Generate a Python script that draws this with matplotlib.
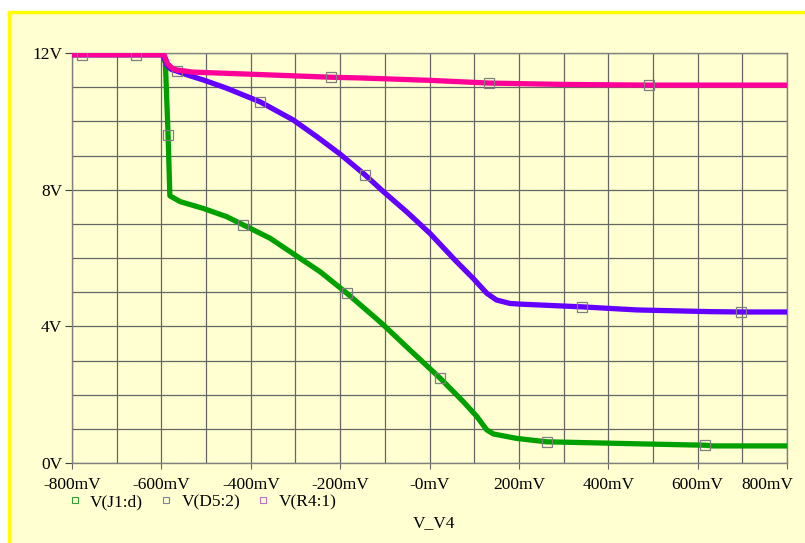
import numpy as np
import matplotlib
matplotlib.use("Agg")
import matplotlib.pyplot as plt
from matplotlib.lines import Line2D
from matplotlib.patches import Rectangle
from matplotlib.ticker import MultipleLocator
import matplotlib.transforms as mtransforms

plt.rcParams['font.family'] = ['Liberation Serif', 'DejaVu Serif']

# V(J1:d) - green
jX = np.array([-800, -596, -591, -585, -581, -558, -506, -454, -417, -357, -301, -245, -185, -115, -103,
               -44, 24, 76, 106, 128, 143, 195, 262, 299, 471, 617, 634, 800])
jY = np.array([11.95, 11.95, 11.7, 9.6, 7.82, 7.65, 7.45, 7.21, 6.97, 6.58, 6.09, 5.60, 4.97, 4.18, 4.04,
               3.31, 2.48, 1.79, 1.36, 0.97, 0.85, 0.72, 0.62, 0.61, 0.56, 0.52, 0.50, 0.50])
jMarks = [-585, -417, -185, 24, 262, 617]

# V(D5:2) - blue
dX = np.array([-800, -596, -588, -578, -565, -540, -506, -454, -379, -305, -252, -200, -144, -103, -51,
               1, 57, 98, 128, 150, 180, 203, 341, 464, 628, 697, 800])
dY = np.array([11.95, 11.95, 11.65, 11.52, 11.47, 11.35, 11.21, 10.97, 10.57, 10.04, 9.55, 9.04, 8.43, 7.94, 7.35,
               6.72, 5.94, 5.40, 4.97, 4.77, 4.67, 4.65, 4.57, 4.48, 4.43, 4.42, 4.42])
dMarks = [-565, -379, -144, 341, 697]

# V(R4:1) - pink
rX = np.array([-800, -778, -657, -594, -586, -575, -565, -529, -402, -220, -156, 0, 133, 300, 491, 800])
rY = np.array([11.95, 11.95, 11.95, 11.95, 11.68, 11.55, 11.5, 11.44, 11.38, 11.29, 11.27, 11.2, 11.12, 11.08, 11.06, 11.06])
rMarks = [-778, -657, -220, 133, 491]

xTicks = [-800, -600, -400, -200, 0, 200, 400, 600, 800]
xLabels = ["-800mV", "-600mV", "-400mV", "-200mV", "-0mV", "200mV", "400mV", "600mV", "800mV"]
yTicks = [0, 4, 8, 12]
yLabels = ["0V", "4V", "8V", "12V"]
traceNames = ["V(J1:d)", "V(D5:2)", "V(R4:1)"]

bgColor = "#FFFFD2"
gridColor = "#666666"
fs = 12.5

fig = plt.figure(figsize=(8.05, 5.43), dpi=100, facecolor="white")
fig.add_artist(Rectangle((9/805, -0.05), 1.2, (543-12)/543 + 0.05, transform=fig.transFigure,
                         facecolor=bgColor, edgecolor="#FFFF00", linewidth=2.5, zorder=-10))

ax = fig.add_axes([72/805, 80/543, 715/805, 410/543])
ax.set_facecolor(bgColor)

def trace(x, y, marks, color):
    idx = [int(np.where(x == m)[0][0]) for m in marks]
    ax.plot(x, y, color=color, lw=3.8, solid_joinstyle="round", solid_capstyle="butt",
            marker="s", markevery=idx, ms=7, mfc="none", mec="#7F7F7F", mew=0.9, zorder=3)

trace(jX, jY, jMarks, "#00A000")
trace(dX, dY, dMarks, "#6400FF")
trace(rX, rY, rMarks, "#FF0099")

ax.set_xlim(-800, 800)
ax.set_ylim(0, 12)
ax.set_xticks(xTicks)
ax.set_xticklabels(xLabels, fontsize=fs)
ax.set_yticks(yTicks)
ax.set_yticklabels(yLabels, fontsize=fs)
ax.xaxis.set_minor_locator(MultipleLocator(100))
ax.yaxis.set_minor_locator(MultipleLocator(1))
ax.grid(True, which="both", color=gridColor, lw=0.9)
ax.set_axisbelow(True)
ax.tick_params(axis="x", which="major", length=4, pad=6, color=gridColor)
ax.tick_params(axis="y", which="major", length=5, pad=2, color="#404040")
ax.tick_params(which="minor", length=0)
for s in ax.spines.values():
    s.set_color("#808080")
    s.set_linewidth(1)

# last x label pushed inside the figure
lastLab = ax.get_xticklabels()[-1]
lastLab.set_ha("right")
lastLab.set_transform(lastLab.get_transform() + mtransforms.ScaledTranslation(6/100, 0, fig.dpi_scale_trans))

ax.set_xlabel("V_V4", fontsize=fs)
ax.xaxis.set_label_coords(0.506, -0.127)

handles = [
    Line2D([], [], ls="none", marker="s", ms=4, mfc="none", mec="#30A030", mew=0.8),
    Line2D([], [], ls="none", marker="s", ms=4, mfc="none", mec="#8080A0", mew=0.8),
    Line2D([], [], ls="none", marker="s", ms=4, mfc="none", mec="#C070C0", mew=0.8),
]
fig.legend(handles, traceNames, loc="center left", bbox_to_anchor=(69.8/805, 41/543),
           ncol=3, frameon=False, fontsize=fs, handlelength=0.6, handletextpad=0.56,
           columnspacing=1.05, borderpad=0, borderaxespad=0)

fig.savefig("out.png", dpi=100, facecolor="white")
